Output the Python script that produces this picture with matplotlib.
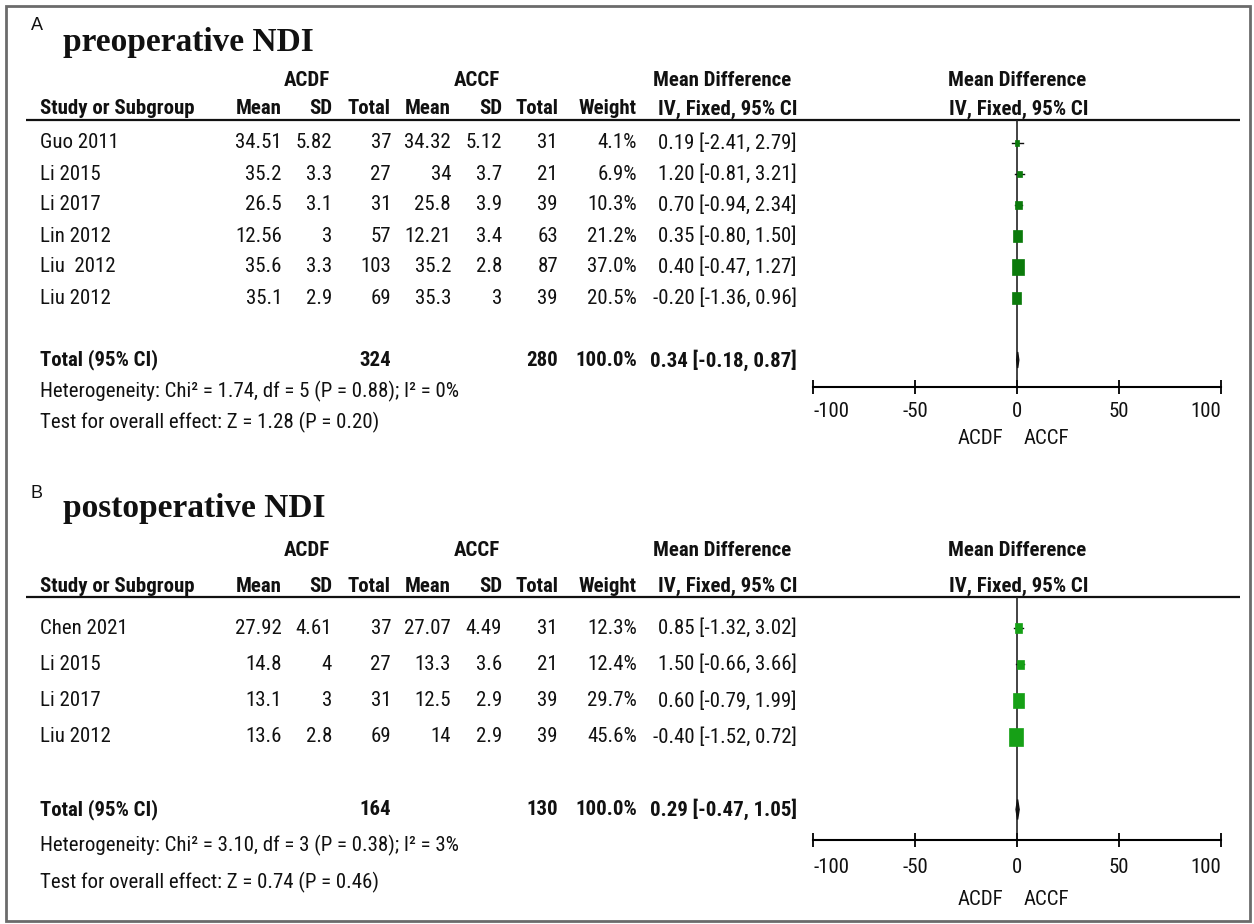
import matplotlib
matplotlib.use('Agg')
import matplotlib.pyplot as plt
from matplotlib import font_manager
from matplotlib.patches import Rectangle, Polygon

# preoperative NDI
studies_pre = ['Guo 2011', 'Li 2015', 'Li 2017', 'Lin 2012', 'Liu  2012', 'Liu 2012']
acdf_mean_pre = [34.51, 35.2, 26.5, 12.56, 35.6, 35.1]
acdf_sd_pre = [5.82, 3.3, 3.1, 3, 3.3, 2.9]
acdf_n_pre = [37, 27, 31, 57, 103, 69]
accf_mean_pre = [34.32, 34, 25.8, 12.21, 35.2, 35.3]
accf_sd_pre = [5.12, 3.7, 3.9, 3.4, 2.8, 3]
accf_n_pre = [31, 21, 39, 63, 87, 39]
weight_pre = [4.1, 6.9, 10.3, 21.2, 37.0, 20.5]
md_pre = [0.19, 1.20, 0.70, 0.35, 0.40, -0.20]
lo_pre = [-2.41, -0.81, -0.94, -0.80, -0.47, -1.36]
hi_pre = [2.79, 3.21, 2.34, 1.50, 1.27, 0.96]
total_pre = [324, 280]
pooled_pre = [0.34, -0.18, 0.87]
het_pre = 'Heterogeneity: Chi\u00b2 = 1.74, df = 5 (P = 0.88); I\u00b2 = 0%'
test_pre = 'Test for overall effect: Z = 1.28 (P = 0.20)'

# postoperative NDI
studies_post = ['Chen 2021', 'Li 2015', 'Li 2017', 'Liu 2012']
acdf_mean_post = [27.92, 14.8, 13.1, 13.6]
acdf_sd_post = [4.61, 4, 3, 2.8]
acdf_n_post = [37, 27, 31, 69]
accf_mean_post = [27.07, 13.3, 12.5, 14]
accf_sd_post = [4.49, 3.6, 2.9, 2.9]
accf_n_post = [31, 21, 39, 39]
weight_post = [12.3, 12.4, 29.7, 45.6]
md_post = [0.85, 1.50, 0.60, -0.40]
lo_post = [-1.32, -0.66, -0.79, -1.52]
hi_post = [3.02, 3.66, 1.99, 0.72]
total_post = [164, 130]
pooled_post = [0.29, -0.47, 1.05]
het_post = 'Heterogeneity: Chi\u00b2 = 3.10, df = 3 (P = 0.38); I\u00b2 = 3%'
test_post = 'Test for overall effect: Z = 0.74 (P = 0.46)'

axis_ticks = [-100, -50, 0, 50, 100]
axis_labels = ['-100', '-50', '0', '50', '100']

W, H = 1254, 924


def _weight(w):
    if isinstance(w, str):
        return font_manager.weight_dict.get(w, 400)
    return w


# a narrow sans that also has a bold face, else plain Liberation Sans
weights = {}
for f in font_manager.fontManager.ttflist:
    if 'Narrow' in f.name or 'Condensed' in f.name:
        weights.setdefault(f.name, set()).add(_weight(f.weight))
usable = [n for n, ws in weights.items() if max(ws) >= 600 and min(ws) <= 500]
prefer = ['Liberation Sans Narrow', 'Arial Narrow', 'Roboto Condensed', 'Open Sans Condensed']
usable.sort(key=lambda n: prefer.index(n) if n in prefer else len(prefer))
if usable:
    SANS, FS = usable[0], 15
else:
    SANS, FS = 'Liberation Sans', 14
SERIF = 'Liberation Serif'

fig = plt.figure(figsize=(W / 100, H / 100), dpi=100)
bg = fig.add_axes([0, 0, 1, 1])
bg.set_xlim(0, W)
bg.set_ylim(H, 0)
bg.axis('off')

bg.add_patch(Rectangle((6, 6), 1244, 915, fill=False, edgecolor='#6b6b6b', lw=2))

# table column anchors (pixels)
X_NAME = 40
X_COLS = [282, 332, 391, 451, 502, 558, 637, 797]
X_LEFT = 813
X_RIGHT = 1221


def fmt(v):
    return '{:g}'.format(v)


def txt(x, y, s, ha='right', bold=False, **kw):
    bg.text(x, y, s, ha=ha, va='center', fontsize=FS, family=SANS,
            fontweight='bold' if bold else 'normal', color='#111111', **kw)


def draw_panel(lay, letter, title, data):
    bg.text(37, lay['letter_y'], letter, ha='center', va='center', fontsize=13,
            family='Liberation Sans', color='#111111')
    bg.text(63, lay['title_y'], title, ha='left', va='center', fontsize=24,
            family=SERIF, fontweight='bold', color='#111111')

    gy = lay['group_y']
    txt(307, gy, 'ACDF', ha='center', bold=True)
    txt(477, gy, 'ACCF', ha='center', bold=True)
    txt(722, gy, 'Mean Difference', ha='center', bold=True)
    txt(1017, gy, 'Mean Difference', ha='center', bold=True)

    ly = lay['line_y']
    hy = ly - 11
    txt(X_NAME, hy, 'Study or Subgroup', ha='left', bold=True)
    for x, s in zip(X_COLS[:7], ['Mean', 'SD', 'Total', 'Mean', 'SD', 'Total', 'Weight']):
        txt(x, hy, s, bold=True)
    txt(728, hy, 'IV, Fixed, 95% CI', ha='center', bold=True)
    txt(1019, hy, 'IV, Fixed, 95% CI', ha='center', bold=True)
    bg.plot([26, 1240], [ly, ly], color='#111111', lw=1.6, solid_capstyle='butt')

    n = len(data['studies'])
    rows = [lay['row0'] + lay['step'] * i for i in range(n + 4)]

    for i in range(n):
        y = rows[i]
        txt(X_NAME, y, data['studies'][i], ha='left')
        cells = [fmt(data['acdf_mean'][i]), fmt(data['acdf_sd'][i]), str(data['acdf_n'][i]),
                 fmt(data['accf_mean'][i]), fmt(data['accf_sd'][i]), str(data['accf_n'][i]),
                 '{:.1f}%'.format(data['weight'][i]),
                 '{:.2f} [{:.2f}, {:.2f}]'.format(data['md'][i], data['lo'][i], data['hi'][i])]
        for x, s in zip(X_COLS, cells):
            txt(x, y, s)

    ty = rows[n + 1]
    txt(X_NAME, ty, 'Total (95% CI)', ha='left', bold=True)
    txt(X_COLS[2], ty, str(data['total'][0]), bold=True)
    txt(X_COLS[5], ty, str(data['total'][1]), bold=True)
    txt(X_COLS[6], ty, '100.0%', bold=True)
    m, lo, hi = data['pooled']
    txt(X_COLS[7], ty, '{:.2f} [{:.2f}, {:.2f}]'.format(m, lo, hi), bold=True)
    txt(X_NAME, rows[n + 2], data['het'], ha='left')
    txt(X_NAME, rows[n + 3], data['test'], ha='left')

    # forest plot, y data in pixel rows
    ay = lay['axis_y']
    ax = fig.add_axes([X_LEFT / W, 1 - ay / H, (X_RIGHT - X_LEFT) / W, (ay - ly) / H])
    ax.set_xlim(-100, 100)
    ax.set_ylim(ay, ly)
    ax.patch.set_alpha(0)
    for s in ['top', 'left', 'right']:
        ax.spines[s].set_visible(False)
    ax.spines['bottom'].set_linewidth(1.5)
    ax.set_yticks([])
    ax.set_xticks(axis_ticks)
    ax.set_xticklabels(axis_labels, family=SANS, fontsize=FS)
    ax.tick_params(axis='x', direction='inout', length=10, width=1.4,
                   pad=lay['tick_pad'], colors='#111111')
    tl = ax.get_xticklabels()
    tl[0].set_ha('left')
    tl[-1].set_ha('right')
    ax.axvline(0, color='#222222', lw=1.2, zorder=1)

    upx = 200 / (X_RIGHT - X_LEFT)  # data units per pixel
    for i in range(n):
        y = rows[i]
        ax.plot([data['lo'][i], data['hi'][i]], [y, y], color='#111111', lw=1.0, zorder=2)
        side = 2.0 * data['weight'][i] ** 0.5
        w = side * upx
        h = side * lay['sq_aspect']
        ax.add_patch(Rectangle((data['md'][i] - w / 2, y - h / 2), w, h,
                               facecolor=lay['green'], edgecolor=lay['green'], lw=0.5, zorder=3))

    dh = lay['dia_h']
    ax.add_patch(Polygon([(lo, ty), (m, ty - dh / 2), (hi, ty), (m, ty + dh / 2)],
                         closed=True, facecolor='#111111', edgecolor='#111111', lw=1.0, zorder=3))

    off = lay['lab_off']
    ax.annotate('ACDF', xy=(0, ay), xytext=(-10, -off), textcoords='offset points',
                ha='right', va='center', fontsize=FS, family=SANS, color='#111111',
                annotation_clip=False)
    ax.annotate('ACCF', xy=(0, ay), xytext=(5, -off), textcoords='offset points',
                ha='left', va='center', fontsize=FS, family=SANS, color='#111111',
                annotation_clip=False)


layout_pre = dict(letter_y=25, title_y=43, group_y=80, line_y=120, row0=143, step=31,
                  axis_y=387, tick_pad=6, lab_off=37, sq_aspect=1.25, dia_h=16,
                  green='#0b7a0b')
layout_post = dict(letter_y=493, title_y=508, group_y=550, line_y=597, row0=628, step=36.3,
                   axis_y=840, tick_pad=8, lab_off=43, sq_aspect=1.35, dia_h=20,
                   green='#16a016')

data_pre = dict(studies=studies_pre, acdf_mean=acdf_mean_pre, acdf_sd=acdf_sd_pre,
                acdf_n=acdf_n_pre, accf_mean=accf_mean_pre, accf_sd=accf_sd_pre,
                accf_n=accf_n_pre, weight=weight_pre, md=md_pre, lo=lo_pre, hi=hi_pre,
                total=total_pre, pooled=pooled_pre, het=het_pre, test=test_pre)
data_post = dict(studies=studies_post, acdf_mean=acdf_mean_post, acdf_sd=acdf_sd_post,
                 acdf_n=acdf_n_post, accf_mean=accf_mean_post, accf_sd=accf_sd_post,
                 accf_n=accf_n_post, weight=weight_post, md=md_post, lo=lo_post, hi=hi_post,
                 total=total_post, pooled=pooled_post, het=het_post, test=test_post)

draw_panel(layout_pre, 'A', 'preoperative NDI', data_pre)
draw_panel(layout_post, 'B', 'postoperative NDI', data_post)

fig.savefig('out.png', dpi=100)
